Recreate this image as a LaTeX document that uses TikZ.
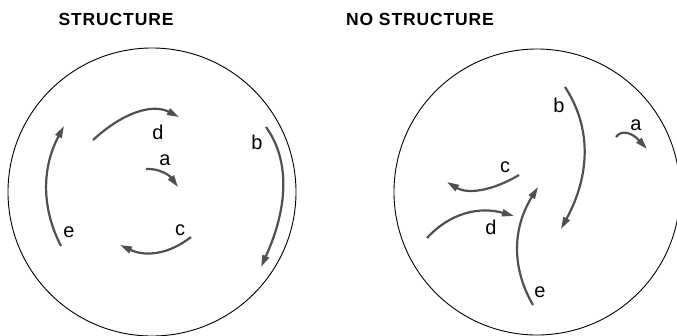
\documentclass[tikz,border=0pt]{standalone}
\usepackage{fontspec}
\setmainfont{Liberation Sans}
\usetikzlibrary{arrows.meta}
\definecolor{arrgray}{HTML}{505050}
\tikzset{
  flow/.style={draw=arrgray, line width=2.2pt, -{Triangle[length=12pt,width=7pt]}},
  lbl/.style={font=\fontsize{20}{22}\selectfont, inner sep=0pt},
  ttl/.style={font=\bfseries\fontsize{17.5}{20}\selectfont\addfontfeatures{LetterSpace=5}, inner sep=0pt},
  dish/.style={draw=black, line width=0.9pt}
}
\begin{document}
\begin{tikzpicture}[x=1pt,y=-1pt]
\useasboundingbox (0,0) rectangle (677,335);
% titles
\node[ttl] (t1) at (116,19) {STRUCTURE};
\node[ttl] (t2) at (420,19) {NO STRUCTURE};
% dishes
\node[dish, circle, minimum size=288pt, inner sep=0pt] (c1) at (152,192) {};
\node[dish, circle, minimum size=286pt, inner sep=0pt] (c2) at (537,192) {};
% ---- left: structure ----
\coordinate (ld0) at (93,140);  \coordinate (ld1) at (179,117);
\coordinate (la0) at (146,169); \coordinate (la1) at (178,187);
\coordinate (lb0) at (266,127); \coordinate (lb1) at (261,267);
\coordinate (lc0) at (191,237); \coordinate (lc1) at (120,245);
\coordinate (le0) at (61,246);  \coordinate (le1) at (64,126);
\draw[flow] (ld0) .. controls (124.3,111.3) and (153,103.7) .. (ld1);
\draw[flow] (la0) .. controls (158,168.3) and (168.7,174.3) .. (la1);
\draw[flow] (lb0) .. controls (290,160.3) and (288.3,207) .. (lb1);
\draw[flow] (lc0) .. controls (169,254.3) and (145.7,257) .. (lc1);
\draw[flow] (le0) .. controls (41,207.3) and (42,167.3) .. (le1);
\node[lbl] (Ld) at (158,132) {d};
\node[lbl] (La) at (165,160) {a};
\node[lbl] (Lb) at (257,142) {b};
\node[lbl] (Lc) at (180,230) {c};
\node[lbl] (Le) at (69,232) {e};
% ---- right: no structure ----
\coordinate (rb0) at (565,87);  \coordinate (rb1) at (561,229);
\coordinate (ra0) at (616,137); \coordinate (ra1) at (647,149);
\coordinate (rc0) at (519,175); \coordinate (rc1) at (447,182);
\coordinate (rd0) at (427,238); \coordinate (rd1) at (514,216);
\coordinate (re0) at (533,305); \coordinate (re1) at (538,187);
\draw[flow] (rb0) .. controls (591.7,127.7) and (590.3,175) .. (rb1);
\draw[flow] (ra0) .. controls (622,129) and (632.3,133) .. (ra1);
\draw[flow] (rc0) .. controls (491,191.7) and (467,194) .. (rc1);
\draw[flow] (rd0) .. controls (449.7,213.3) and (478.7,206) .. (rd1);
\draw[flow] (re0) .. controls (511,267) and (512.7,227.7) .. (re1);
\node[lbl] (Rb) at (559,105) {b};
\node[lbl] (Ra) at (636,125) {a};
\node[lbl] (Rc) at (505,167) {c};
\node[lbl] (Rd) at (491,227) {d};
\node[lbl] (Re) at (540,292) {e};
\end{tikzpicture}
\end{document}
